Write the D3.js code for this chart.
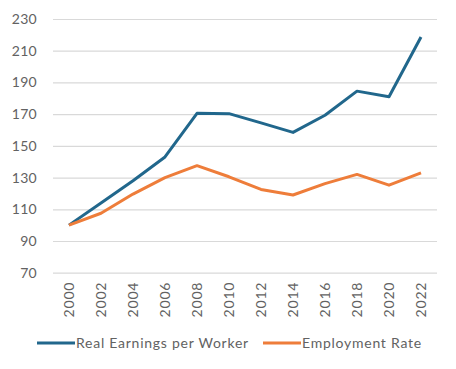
<!DOCTYPE html>
<html lang="en">
<head>
    <meta charset="UTF-8">
    <title>Earnings and Employment</title>
    <script src="https://d3js.org/d3.v7.min.js"></script>
    <style>
        body { margin: 0; background: #fff; }
        text { font-family: Lato, "Open Sans", sans-serif; fill: #626262; }
    </style>
</head>
<body>
<script>
var years = ["2000","2002","2004","2006","2008","2010","2012","2014","2016","2018","2020","2022"];
var earnings = [100, 114, 128, 143, 170.5, 170.3, 164.5, 158.5, 169.3, 184.5, 181, 218.7];
var employment = [100, 107.5, 119.6, 130, 137.5, 130.5, 122.5, 119, 126.2, 132, 125.2, 133];
var yTicks = [70, 90, 110, 130, 150, 170, 190, 210, 230];
var seriesNames = ["Real Earnings per Worker", "Employment Rate"];
var colors = ["#21678c", "#ee7d3a"];

var width = 456, height = 369;
var plotLeft = 53, plotRight = 437, plotTop = 19, plotBottom = 272.7;

var svg = d3.select("body").append("svg")
    .attr("width", width).attr("height", height);

var x = d3.scalePoint().domain(years).range([plotLeft, plotRight]).padding(0.5);
var y = d3.scaleLinear().domain([70, 230]).range([plotBottom, plotTop]);

// gridlines + y labels
var yAxis = d3.axisLeft(y).tickValues(yTicks).tickSize(-(plotRight - plotLeft)).tickPadding(16);
var gy = svg.append("g").attr("transform", "translate(" + plotLeft + ",0)").call(yAxis);
gy.select(".domain").remove();
gy.selectAll(".tick line").attr("stroke", "#d9d9d9").attr("stroke-width", 1.2);
gy.selectAll(".tick text").attr("font-size", 14).attr("font-family", null)
    .attr("letter-spacing", 0.3).style("fill", "#626262");

// x labels rotated
var xAxis = d3.axisBottom(x).tickSize(0).tickPadding(0);
var gx = svg.append("g").attr("transform", "translate(0," + plotBottom + ")").call(xAxis);
gx.select(".domain").remove();
gx.selectAll(".tick text")
    .attr("font-size", 14)
    .attr("font-family", null)
    .attr("letter-spacing", 0.8)
    .attr("transform", "rotate(-90)")
    .attr("text-anchor", "end")
    .attr("x", -9)
    .attr("y", 0)
    .attr("dy", "0.35em")
    .style("fill", "#626262");

var line = d3.line()
    .x(function(d, i) { return x(years[i]); })
    .y(function(d) { return y(d); });

[earnings, employment].forEach(function(s, i) {
    svg.append("path")
        .datum(s)
        .attr("fill", "none")
        .attr("stroke", colors[i])
        .attr("stroke-width", 3)
        .attr("stroke-linejoin", "round")
        .attr("d", line);
});

// legend
var legendX = [37, 263];
var legend = svg.append("g");
seriesNames.forEach(function(name, i) {
    legend.append("line")
        .attr("x1", legendX[i]).attr("x2", legendX[i] + 38)
        .attr("y1", 343).attr("y2", 343)
        .attr("stroke", colors[i]).attr("stroke-width", 3);
    legend.append("text")
        .attr("x", legendX[i] + 39).attr("y", 343)
        .attr("dy", "0.35em")
        .attr("font-size", 14)
        .attr("letter-spacing", 0.75)
        .text(name);
});
</script>
</body>
</html>
